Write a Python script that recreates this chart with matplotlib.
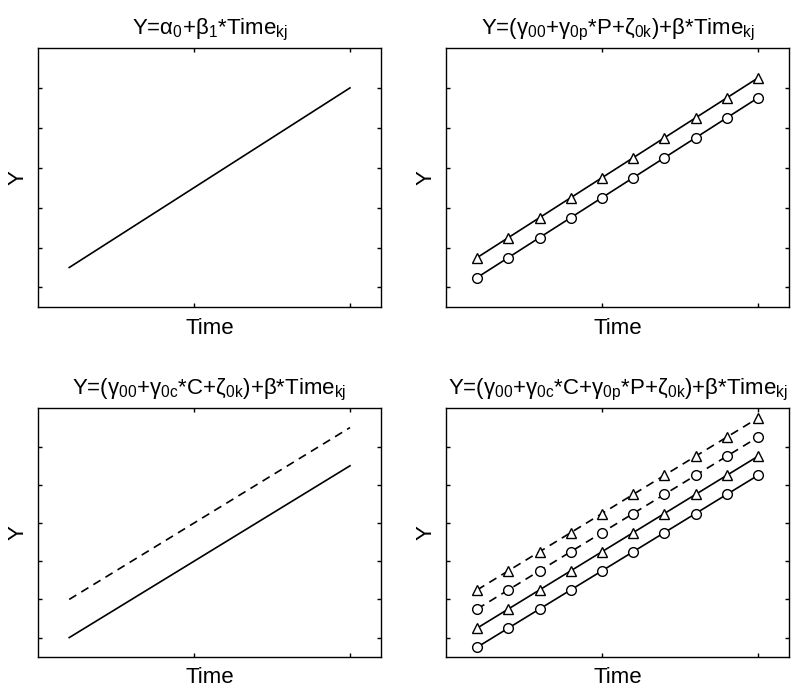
import numpy as np
import matplotlib
matplotlib.use('Agg')
import matplotlib.pyplot as plt

plt.rcParams['font.family'] = ['Liberation Sans', 'DejaVu Sans']
plt.rcParams['mathtext.fontset'] = 'custom'
plt.rcParams['mathtext.rm'] = 'Liberation Sans'
plt.rcParams['mathtext.it'] = 'Liberation Sans'
plt.rcParams['mathtext.bf'] = 'Liberation Sans:bold'

# time points
time = [1, 2, 3, 4, 5, 6, 7, 8, 9, 10]
time_ends = [1, 10]

# panel A: single growth line
y_a = [1.5, 6.0]

# panel B: two groups by P (circle = low, triangle = high)
y_b_circle = [1.25, 1.75, 2.25, 2.75, 3.25, 3.75, 4.25, 4.75, 5.25, 5.75]
y_b_triangle = [1.75, 2.25, 2.75, 3.25, 3.75, 4.25, 4.75, 5.25, 5.75, 6.25]

# panel C: two groups by C (solid / dashed)
y_c_solid = [1.0, 5.5]
y_c_dashed = [2.0, 6.5]

# panel D: C x P groups
y_d_solid_circle = [0.75, 1.25, 1.75, 2.25, 2.75, 3.25, 3.75, 4.25, 4.75, 5.25]
y_d_solid_triangle = [1.25, 1.75, 2.25, 2.75, 3.25, 3.75, 4.25, 4.75, 5.25, 5.75]
y_d_dashed_circle = [1.75, 2.25, 2.75, 3.25, 3.75, 4.25, 4.75, 5.25, 5.75, 6.25]
y_d_dashed_triangle = [2.25, 2.75, 3.25, 3.75, 4.25, 4.75, 5.25, 5.75, 6.25, 6.75]

titles = [
    r'Y=α$_0$+β$_1$*Time$_{kj}$',
    r'Y=(γ$_{00}$+γ$_{0p}$*P+ζ$_{0k}$)+β*Time$_{kj}$',
    r'Y=(γ$_{00}$+γ$_{0c}$*C+ζ$_{0k}$)+β*Time$_{kj}$',
    r'Y=(γ$_{00}$+γ$_{0c}$*C+γ$_{0p}$*P+ζ$_{0k}$)+β*Time$_{kj}$',
]

fig = plt.figure(figsize=(8, 6.92), dpi=100)
ax_a = fig.add_axes([0.0475, 0.5557, 0.429, 0.375])
ax_b = fig.add_axes([0.5575, 0.5557, 0.429, 0.375])
ax_c = fig.add_axes([0.0475, 0.051, 0.429, 0.3587])
ax_d = fig.add_axes([0.5575, 0.051, 0.429, 0.3587])

lw = 1.2
dash = (5, 3.5)
mk = dict(markersize=7, markerfacecolor='white', markeredgecolor='black', markeredgewidth=1.0)

ax_a.plot(time_ends, y_a, color='black', lw=lw)

ax_b.plot(time, y_b_circle, 'o-', color='black', lw=lw, **mk)
ax_b.plot(time, y_b_triangle, '^-', color='black', lw=lw, **mk)

ax_c.plot(time_ends, y_c_solid, color='black', lw=lw)
ax_c.plot(time_ends, y_c_dashed, color='black', lw=lw, dashes=dash)

ax_d.plot(time, y_d_solid_circle, 'o-', color='black', lw=lw, **mk)
ax_d.plot(time, y_d_solid_triangle, '^-', color='black', lw=lw, **mk)
ax_d.plot(time, y_d_dashed_circle, 'o', ls='--', dashes=dash, color='black', lw=lw, **mk)
ax_d.plot(time, y_d_dashed_triangle, '^', ls='--', dashes=dash, color='black', lw=lw, **mk)

for ax, title in zip([ax_a, ax_b, ax_c, ax_d], titles):
    ax.set_xlim(0, 11)
    ax.set_ylim(0.5, 7.0)
    ax.set_xticks([5, 10])
    ax.set_yticks([1, 2, 3, 4, 5, 6])
    ax.set_xticklabels([])
    ax.set_yticklabels([])
    ax.tick_params(direction='in', length=3, width=1.0, top=True, right=True)
    for s in ax.spines.values():
        s.set_linewidth(1.0)
    ax.set_title(title, fontsize=16, pad=10)
    ax.set_xlabel('Time', fontsize=16, labelpad=4)
    ax.set_ylabel('Y', fontsize=16, labelpad=3)

fig.savefig('out.png', dpi=100)
